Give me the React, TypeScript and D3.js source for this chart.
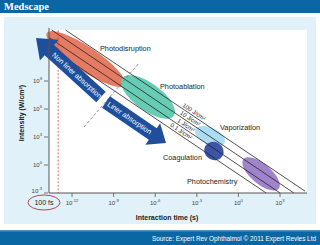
import React from "react";
import * as d3 from "d3";

// ---- data ----
const fluences = [100, 10, 1, 0.1];
const fluenceLabels = ["100 J/cm²", "10 J/cm²", "1 J/cm²", "0.1 J/cm²"];
const xTicks = [1e-12, 1e-9, 1e-6, 1e-3, 1e0, 1e3];
const xTickExp = ["-12", "-9", "-6", "-3", "0", "3"];
const yTicks = [1e-3, 1, 1e3, 1e6, 1e9];
const yTickExp = ["-3", "0", "3", "6", "9"];
const regimes = ["Photodisruption", "Photoablation", "Vaporization", "Coagulation", "Photochemistry"];
const regimeTime = [1e-11, 3e-7, 9e-3, 1.7e-2, 43];
const regimeIntensity = [2.3e11, 2e7, 1.25e3, 32, 0.11];
const femtoLimit = 1e-13;

// ---- layout ----
const W = 320, H = 245;
const PL = 49, PR = 307, PT = 30, PB = 193;
const FONT = "'Liberation Sans', Arial, sans-serif";
const regimeStyle = [
  { rx: 47, ry: 12, rot: 34, fill: "#e57b62", lx: 100, ly: 51 },
  { rx: 32, ry: 13.5, rot: 36, fill: "#66ccb4", lx: 160, ly: 89 },
  { rx: 16, ry: 8.5, rot: 25, fill: "#acdcf2", lx: 220, ly: 130 },
  { rx: 10, ry: 9, rot: 30, fill: "#3d55a6", lx: 163, ly: 160 },
  { rx: 23, ry: 10, rot: 40, fill: "#a084cb", lx: 187, ly: 184 },
];
const fluenceLabelX = [192, 188, 184, 179];

function arrowPath(x1: number, y1: number, x2: number, y2: number, w: number, hw: number, hl: number) {
  const dx = x2 - x1, dy = y2 - y1;
  const L = Math.hypot(dx, dy);
  const ux = dx / L, uy = dy / L;
  const nx = -uy, ny = ux;
  const bx = x2 - ux * hl, by = y2 - uy * hl;
  const p = [
    [x1 + nx * w / 2, y1 + ny * w / 2],
    [bx + nx * w / 2, by + ny * w / 2],
    [bx + nx * hw / 2, by + ny * hw / 2],
    [x2, y2],
    [bx - nx * hw / 2, by - ny * hw / 2],
    [bx - nx * w / 2, by - ny * w / 2],
    [x1 - nx * w / 2, y1 - ny * w / 2],
  ];
  return "M" + p.map((q) => q.join(",")).join("L") + "Z";
}

export default function App() {
  const x = d3.scaleLog().domain([Math.pow(10, -13.66), Math.pow(10, 4.8)]).range([PL, 305]);
  const y = d3.scaleLog().domain([1e-3, Math.pow(10, 14.47)]).range([PB, PT]);
  const [tMin, tMax] = x.domain();
  const [iMin, iMax] = y.domain();
  const slopeDeg = (Math.atan2(y(1) - y(10), x(10) - x(1)) * 180) / Math.PI;

  const lines = fluences.map((F) => {
    const t1 = Math.max(tMin, F / iMax);
    const t2 = Math.min(tMax, F / iMin);
    return { x1: x(t1), y1: y(F / t1), x2: x(t2), y2: y(F / t2) };
  });

  const nonLiner = { x1: 101, y1: 97, x2: 36, y2: 38 };
  const liner = { x1: 106, y1: 102, x2: 166, y2: 143 };
  const aNL = (Math.atan2(nonLiner.y1 - nonLiner.y2, nonLiner.x1 - nonLiner.x2) * 180) / Math.PI;
  const aL = (Math.atan2(liner.y2 - liner.y1, liner.x2 - liner.x1) * 180) / Math.PI;

  return (
    <svg width={W} height={H} style={{ position: "absolute", left: 0, top: 0 }} fontFamily={FONT}>
      <rect x={0} y={0} width={W} height={H} fill="#ffffff" />
      <rect x={0} y={0} width={W} height={13} fill="#0b67a3" />
      <text x={4} y={10} fill="#fff" fontFamily="'Liberation Serif', 'DejaVu Serif', serif" fontWeight="bold" fontSize={10.5}>
        Medscape
      </text>
      <rect x={4} y={17} width={312} height={207} fill="#e0f1f9" />
      <rect x={0} y={230} width={W} height={15} fill="#0b67a3" />
      <rect x={0} y={230} width={W} height={1.5} fill="#4b8fc0" />
      <text x={316} y={240.5} fill="#fff" fontSize={6.4} textAnchor="end">
        Source: Expert Rev Ophthalmol © 2011 Expert Revies Ltd
      </text>

      <rect x={PL} y={PT} width={PR - PL} height={PB - PT} fill="#ffffff" />

      {/* regime ellipses */}
      {regimes.map((r, i) => {
        const s = regimeStyle[i];
        const cx = x(regimeTime[i]);
        const cy = y(regimeIntensity[i]);
        return (
          <ellipse key={r} cx={cx} cy={cy} rx={s.rx} ry={s.ry} fill={s.fill}
            transform={`rotate(${s.rot} ${cx} ${cy})`} />
        );
      })}

      {/* fluence lines */}
      {lines.map((l, i) => (
        <line key={i} x1={l.x1} y1={l.y1} x2={l.x2} y2={l.y2} stroke="#222" strokeWidth={0.8} />
      ))}
      {fluences.map((F, i) => {
        const px = fluenceLabelX[i];
        const py = y(F / x.invert(px));
        return (
          <text key={i} transform={`translate(${px},${py}) rotate(${slopeDeg})`} y={-1.8}
            textAnchor="middle" fontSize={6} fill="#222">
            {fluenceLabels[i]}
          </text>
        );
      })}

      {/* 100 fs limit */}
      <line x1={x(femtoLimit)} x2={x(femtoLimit)} y1={PT} y2={PB} stroke="#d9403a" strokeWidth={0.8} strokeDasharray="2,1.6" />
      {/* linear / nonlinear boundary */}
      <line x1={84} y1={127} x2={139} y2={63} stroke="#777" strokeWidth={0.8} strokeDasharray="3,2" />

      {/* arrows */}
      <path d={arrowPath(nonLiner.x1, nonLiner.y1, nonLiner.x2, nonLiner.y2, 14, 28, 18)} fill="#1f4f9c" />
      <text transform={`translate(${(nonLiner.x1 + nonLiner.x2 + 17) / 2},${(nonLiner.y1 + nonLiner.y2 + 16) / 2}) rotate(${aNL})`}
        textAnchor="middle" dy={2.4} fontSize={7.2} fill="#fff">
        Non liner absorption
      </text>
      <path d={arrowPath(liner.x1, liner.y1, liner.x2, liner.y2, 14, 26, 16)} fill="#1f4f9c" />
      <text transform={`translate(${(liner.x1 + liner.x2 - 13) / 2},${(liner.y1 + liner.y2 - 9) / 2}) rotate(${aL})`}
        textAnchor="middle" dy={2.4} fontSize={7.2} fill="#fff">
        Liner absorption
      </text>

      {/* regime labels */}
      {regimes.map((r, i) => (
        <text key={r} x={regimeStyle[i].lx} y={regimeStyle[i].ly} fontSize={7.3} fill="#222">
          {r}
        </text>
      ))}

      {/* axes */}
      <line x1={PL} x2={PL} y1={PT - 2} y2={PB} stroke="#555" strokeWidth={1} />
      <line x1={PL} x2={PR} y1={PB} y2={PB} stroke="#555" strokeWidth={1} />
      {xTicks.map((t, i) => (
        <g key={i} transform={`translate(${x(t)},${PB})`}>
          <line y1={0} y2={4} stroke="#555" strokeWidth={0.8} />
          <text y={12} textAnchor="middle" fontSize={6} fill="#444">
            10<tspan fontSize={4.2} dy={-2.6}>{xTickExp[i]}</tspan>
          </text>
        </g>
      ))}
      {yTicks.map((t, i) => (
        <g key={i} transform={`translate(${PL},${y(t)})`}>
          <line x1={-5} x2={-1} stroke="#555" strokeWidth={0.8} />
          <text x={-7} y={i === 0 ? 0 : 2} textAnchor="end" fontSize={6} fill="#444">
            10<tspan fontSize={4.2} dy={-2.6}>{yTickExp[i]}</tspan>
          </text>
        </g>
      ))}

      <ellipse cx={44} cy={202.5} rx={16} ry={7.5} fill="none" stroke="#a8354a" strokeWidth={0.9} />
      <text x={44} y={205} textAnchor="middle" fontSize={7} fill="#222">100 fs</text>

      <text x={167} y={220} textAnchor="middle" fontSize={7} fontWeight="bold" fill="#222">
        Interaction time (s)
      </text>
      <text transform="translate(24,113) rotate(-90)" textAnchor="middle" fontSize={7} fontWeight="bold" fill="#222">
        Intensity (W/cm²)
      </text>
    </svg>
  );
}
